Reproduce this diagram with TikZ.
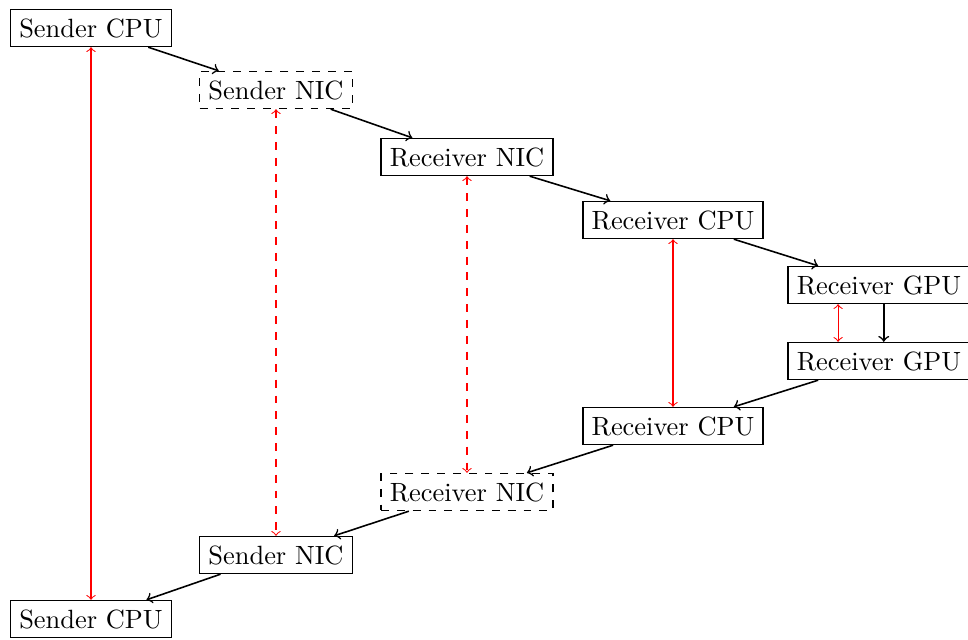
\documentclass[tikz,border=0pt]{standalone}
\usetikzlibrary{calc}
\begin{document}
\begin{tikzpicture}[x=0.3788pt,y=-0.3788pt,
  box/.style={draw,semithick,inner sep=0.3333em},
  dbox/.style={box,dashed},
  flow/.style={->,semithick},
  sync/.style={<->,red},
  dsync/.style={sync,dashed}]
\useasboundingbox (0,0) rectangle (968,639);
\node[box]  (scpu1) at (91,28)  {Sender CPU};
\node[dbox] (snic1) at (276,90) {Sender NIC};
\node[box]  (rnic1) at (467,157) {Receiver NIC};
\node[box]  (rcpu1) at (673,220) {Receiver CPU};
\node[box]  (rgpu1) at (879,285) {Receiver GPU};
\node[box]  (rgpu2) at (879,361) {Receiver GPU};
\node[box]  (rcpu2) at (673,426) {Receiver CPU};
\node[dbox] (rnic2) at (467,492) {Receiver NIC};
\node[box]  (snic2) at (276,555) {Sender NIC};
\node[box]  (scpu2) at (91,619) {Sender CPU};
\draw[flow] (scpu1) -- (snic1);
\draw[flow] (snic1) -- (rnic1);
\draw[flow] (rnic1) -- (rcpu1);
\draw[flow] (rcpu1) -- (rgpu1);
\draw[flow] ([xshift=1.8pt]rgpu1.south) -- ([xshift=1.8pt]rgpu2.north);
\draw[flow] (rgpu2) -- (rcpu2);
\draw[flow] (rcpu2) -- (rnic2);
\draw[flow] (rnic2) -- (snic2);
\draw[flow] (snic2) -- (scpu2);
\draw[sync] (scpu1) -- (scpu2);
\draw[dsync] (snic1) -- (snic2);
\draw[dsync] (rnic1) -- (rnic2);
\draw[sync] (rcpu1) -- (rcpu2);
\draw[sync] ([xshift=-15.5pt]rgpu1.south) -- ([xshift=-15.5pt]rgpu2.north);
\end{tikzpicture}
\end{document}
